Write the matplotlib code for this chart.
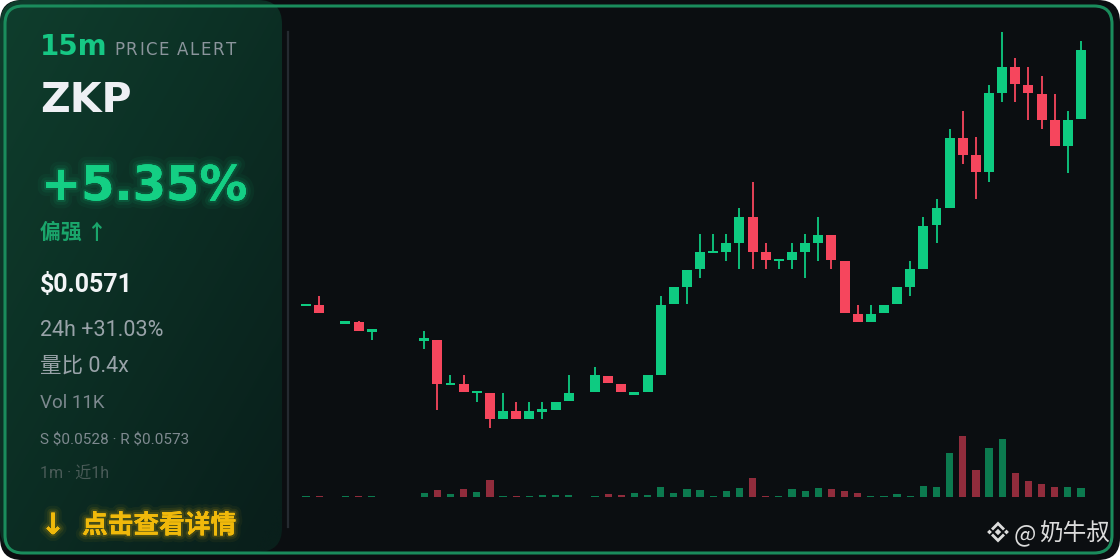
import matplotlib
matplotlib.use('Agg')
import matplotlib.pyplot as plt
import numpy as np
from matplotlib.patches import FancyBboxPatch, Polygon
import matplotlib.patheffects as pe

# ---------------- data ----------------
slots = [0, 1, 3, 4, 5, 9, 10, 11, 12, 13, 14, 15, 16, 17, 18, 19, 20,
         22, 23, 24, 25, 26, 27, 28, 29, 30, 31, 32, 33, 34, 35, 36, 37, 38, 39,
         40, 41, 42, 43, 44, 45, 46, 47, 48, 49, 50, 51, 52, 53, 54, 55, 56, 57, 58, 59]
opens = [0.04662, 0.04666, 0.04590, 0.04596, 0.04557, 0.04520, 0.04523, 0.04339, 0.04343, 0.04307,
         0.04308, 0.04200, 0.04234, 0.04200, 0.04231, 0.04237, 0.04273,
         0.04309, 0.04377, 0.04342, 0.04300, 0.04309, 0.04380, 0.04668, 0.04740, 0.04813, 0.04878,
         0.04883, 0.04919, 0.05025, 0.04881, 0.04844, 0.04848, 0.04883, 0.04920,
         0.04952, 0.04846, 0.04629, 0.04595, 0.04632, 0.04668, 0.04740, 0.04813, 0.04992, 0.05063,
         0.05348, 0.05278, 0.05207, 0.05531, 0.05635, 0.05563, 0.05528, 0.05420, 0.05314, 0.05423]
highs = [0.04664, 0.04702, 0.04592, 0.04600, 0.04559, 0.04560, 0.04523, 0.04380, 0.04380, 0.04309,
         0.04308, 0.04308, 0.04271, 0.04271, 0.04271, 0.04271, 0.04380,
         0.04414, 0.04377, 0.04342, 0.04305, 0.04380, 0.04702, 0.04738, 0.04810, 0.04954, 0.04954,
         0.04954, 0.05060, 0.05169, 0.04917, 0.04846, 0.04917, 0.04954, 0.05025,
         0.04952, 0.04846, 0.04666, 0.04666, 0.04666, 0.04738, 0.04845, 0.05025, 0.05097, 0.05384,
         0.05457, 0.05350, 0.05564, 0.05781, 0.05672, 0.05635, 0.05600, 0.05528, 0.05457, 0.05744]
lows = [0.04662, 0.04633, 0.04590, 0.04560, 0.04523, 0.04486, 0.04237, 0.04339, 0.04309, 0.04271,
        0.04165, 0.04200, 0.04200, 0.04200, 0.04200, 0.04237, 0.04273,
        0.04309, 0.04346, 0.04309, 0.04300, 0.04309, 0.04380, 0.04668, 0.04668, 0.04775, 0.04878,
        0.04846, 0.04811, 0.04811, 0.04811, 0.04811, 0.04811, 0.04775, 0.04846,
        0.04811, 0.04632, 0.04595, 0.04595, 0.04632, 0.04668, 0.04704, 0.04813, 0.04920, 0.05063,
        0.05241, 0.05098, 0.05169, 0.05493, 0.05493, 0.05422, 0.05385, 0.05314, 0.05205, 0.05423]
closes = [0.04664, 0.04633, 0.04592, 0.04560, 0.04559, 0.04522, 0.04343, 0.04341, 0.04309, 0.04309,
          0.04202, 0.04234, 0.04200, 0.04234, 0.04233, 0.04271, 0.04305,
          0.04380, 0.04346, 0.04309, 0.04305, 0.04380, 0.04666, 0.04738, 0.04810, 0.04881, 0.04880,
          0.04917, 0.05025, 0.04883, 0.04848, 0.04846, 0.04881, 0.04917, 0.04952,
          0.04848, 0.04632, 0.04595, 0.04629, 0.04666, 0.04738, 0.04811, 0.04989, 0.05060, 0.05348,
          0.05278, 0.05207, 0.05529, 0.05635, 0.05566, 0.05531, 0.05422, 0.05314, 0.05420, 0.05707]
volumes = [1.0, 1.2, 0.8, 0.8, 0.8, 4.0, 7.0, 3.3, 8.0, 4.7, 17.0, 1.3, 0.8, 1.0, 2.3, 2.3, 2.0,
           1.0, 3.3, 2.0, 4.0, 2.0, 10.0, 4.0, 8.3, 7.3, 1.0, 6.3, 9.0, 19.0, 0.8, 1.3, 7.7, 6.3, 9.3,
           8.0, 5.7, 4.3, 0.8, 0.8, 3.3, 1.0, 11.0, 9.7, 44.0, 61.0, 27.0, 49.0, 58.0, 24.0, 16.0,
           13.0, 10.0, 10.3, 9.0]

symbol = "ZKP"
timeframe = "15m"
alert_txt = "PRICE ALERT"
change_txt = "+5.35%"
bias_txt = "偏强 ↑"
price_txt = "$0.0571"
info_lines = ["24h +31.03%", "量比 0.4x", "Vol 11K", "S $0.0528 · R $0.0573", "1m · 近1h"]
cta_txt = "点击查看详情"
watermark_at = "@"
watermark_name = "奶牛叔"

GREEN = '#0ecb81'
RED = '#f6465d'
BG = '#0b0e11'

W, H = 1120, 560
fig = plt.figure(figsize=(11.2, 5.6), dpi=100)
fig.patch.set_facecolor('white')

bg = fig.add_axes([0, 0, 1, 1])
bg.set_xlim(0, W)
bg.set_ylim(H, 0)
bg.axis('off')

card = FancyBboxPatch((0, 0), W, H, boxstyle='round,pad=0,rounding_size=22',
                      fc=BG, ec='none', zorder=0)
bg.add_patch(card)

# left panel gradient
pw, ph = 282, 552
panel = FancyBboxPatch((0, 0), pw, ph, boxstyle='round,pad=0,rounding_size=24',
                       fc='none', ec='none', zorder=1)
bg.add_patch(panel)
gy, gx = np.mgrid[0:1:200j, 0:1:120j]
c0 = np.array([15, 62, 45]) / 255.0
c1 = np.array([9, 31, 27]) / 255.0
t = np.clip(0.55 * gy + 0.5 * gx, 0, 1)[..., None]
img = c0 * (1 - t) + c1 * t
im = bg.imshow(img, extent=(0, pw, ph, 0), zorder=1, interpolation='bilinear', aspect='auto')
im.set_clip_path(panel)
bg.set_xlim(0, W)
bg.set_ylim(H, 0)

# outer green border
border = FancyBboxPatch((5, 6), 1107, 547, boxstyle='round,pad=0,rounding_size=18',
                        fc='none', ec='#1a8c5c', lw=2.2, zorder=5)
bg.add_patch(border)

# divider line
bg.plot([288, 288], [32, 527], color='#252a30', lw=1.6, zorder=2)

# ---------------- texts ----------------
renderer = fig.canvas.get_renderer()


def spaced_text(x0, y0, s, gap, **kw):
    xx = x0
    for ch in s:
        t_ = bg.text(xx, y0, ch, **kw)
        bb = t_.get_window_extent(renderer=renderer)
        xx += bb.width + gap if ch != ' ' else 0
        if ch == ' ':
            xx += 6
    return xx


bg.text(40, 55, timeframe, color='#16c784', fontsize=20, fontweight='bold',
        family='DejaVu Sans', va='baseline', zorder=6)
spaced_text(114, 55, alert_txt, 1.6, color='#8b959c', fontsize=12, family='DejaVu Sans',
            va='baseline', zorder=6)
bg.text(40, 112, symbol, color='#eef0f4', fontsize=29.5, fontweight='bold',
        family='DejaVu Sans', va='baseline', zorder=6)
g = (0.05, 0.8, 0.5)
bg.text(41, 200, change_txt, color='#14cf84', fontsize=34.5, fontweight='bold',
        family='DejaVu Sans', va='baseline', zorder=6,
        path_effects=[pe.Stroke(linewidth=12, foreground=g + (0.05,)),
                      pe.Stroke(linewidth=7, foreground=g + (0.08,)),
                      pe.Stroke(linewidth=3, foreground=g + (0.15,)),
                      pe.Normal()])
bg.text(40, 239, bias_txt, color='#1aa56b', fontsize=15, fontweight='bold',
        family=['Noto Sans CJK SC', 'DejaVu Sans'], va='baseline', zorder=6)
bg.text(40, 292, price_txt, color='#f2f4f6', fontsize=18, fontweight='bold',
        family='Roboto', va='baseline', zorder=6, parse_math=False)
fam = ['Roboto', 'Noto Sans CJK SC', 'DejaVu Sans']
bg.text(40, 336, info_lines[0], color='#99a3a9', fontsize=15.5, family=fam, va='baseline', zorder=6)
bg.text(40, 372, info_lines[1], color='#99a3a9', fontsize=15.5, family=fam, va='baseline', zorder=6)
bg.text(40, 408, info_lines[2], color='#7d898f', fontsize=13.5, family=fam, va='baseline', zorder=6)
bg.text(40, 444, info_lines[3], color='#7f8a90', fontsize=11, family=fam, va='baseline', zorder=6,
        parse_math=False)
bg.text(40, 479, info_lines[4], color='#4a5b58', fontsize=11.5, family=fam, va='baseline', zorder=6)

y_ = (0.94, 0.72, 0.04)
glow_y = [pe.Stroke(linewidth=10, foreground=y_ + (0.05,)),
          pe.Stroke(linewidth=6, foreground=y_ + (0.09,)),
          pe.Stroke(linewidth=3, foreground=y_ + (0.15,)),
          pe.Normal()]
bg.text(53, 534, "↓", color='#f0b90b', fontsize=21, fontweight='bold', ha='center',
        family='DejaVu Sans', va='baseline', zorder=6, path_effects=glow_y)
bg.text(82, 533, cta_txt, color='#f0b90b', fontsize=18.5, fontweight='bold',
        family=['Noto Sans CJK SC', 'DejaVu Sans'], va='baseline', zorder=6, path_effects=glow_y)

# watermark with logo
wc = '#dcdcdc'
cx, cy = 998, 532
def diamond(x, y, r):
    return Polygon([(x, y - r), (x + r, y), (x, y + r), (x - r, y)], closed=True, fc=wc, ec='none', zorder=6)
bg.add_patch(diamond(cx, cy, 3.2))
bg.add_patch(diamond(cx - 8.5, cy, 2.4))
bg.add_patch(diamond(cx + 8.5, cy, 2.4))
top = [(cx - 7, cy - 3.5), (cx, cy - 10.5), (cx + 7, cy - 3.5), (cx + 5, cy - 1.5), (cx, cy - 6.5), (cx - 5, cy - 1.5)]
bot = [(x, 2 * cy - y) for x, y in top]
bg.add_patch(Polygon(top, closed=True, fc=wc, ec='none', zorder=6))
bg.add_patch(Polygon(bot, closed=True, fc=wc, ec='none', zorder=6))
bg.text(1014, 541, watermark_at, color=wc, fontsize=17, family=['Noto Sans CJK SC', 'DejaVu Sans'],
        va='baseline', zorder=6)
bg.text(1039, 541, watermark_name, color=wc, fontsize=17, family=['Noto Sans CJK SC', 'DejaVu Sans'],
        va='baseline', zorder=6)

# ---------------- candles ----------------
x = np.array(slots, dtype=float)
o = np.array(opens); h = np.array(highs); l = np.array(lows); c = np.array(closes)
v = np.array(volumes)
up = c >= o
cols = np.where(up, GREEN, RED)

ax = fig.add_axes([290 / W, (H - 430) / H, 810 / W, 410 / H])
ax.set_facecolor('none')
px_per_unit = 775 / 59
ax.set_xlim(-16 / px_per_unit, 59 + 19 / px_per_unit)
ylo, yhi = 0.041556, 0.058284
ax.set_ylim(ylo, yhi)
ax.axis('off')
minh = (yhi - ylo) / 410 * 2.2
ax.vlines(x, l, h, colors=cols, lw=1.3, zorder=2)
bottoms = np.minimum(o, c)
heights = np.maximum(np.abs(c - o), minh)
ax.bar(x, heights, bottom=bottoms, width=0.76, color=cols, edgecolor='none', zorder=3)

vax = fig.add_axes([290 / W, (H - 497) / H, 810 / W, 77 / H])
vax.set_facecolor('none')
vax.set_xlim(ax.get_xlim())
vax.set_ylim(0, 77)
vax.axis('off')
vcols = np.where(up, '#0c7a4f', '#912c3c')
vax.bar(x, np.maximum(v, 1.0), width=0.55, color=vcols, edgecolor='none')

fig.savefig('out.png', dpi=100, facecolor=fig.get_facecolor())
